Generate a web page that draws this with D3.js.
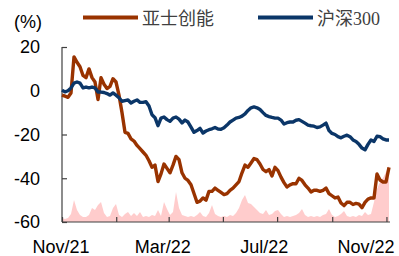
<!DOCTYPE html>
<html>
<head>
<meta charset="utf-8">
<script src="https://cdn.jsdelivr.net/npm/d3@7.9.0/dist/d3.min.js"></script>
<style>
  body { margin: 0; background: #fff; }
  svg { display: block; }
  .tick-label { font-family: "Liberation Sans", Arial, sans-serif; font-size: 18px; fill: #000; }
  .legend-text { font-family: "Liberation Serif", "Noto Sans CJK SC", serif; font-size: 18px; fill: #404040; }
</style>
</head>
<body>
<svg id="chart" width="399" height="256"></svg>
<script>
// 亚士创能 cumulative return (%), sampled about every 3.4 days from Nov 1 2021
const asiaValues = [
  -2, -2.5, -3, -1, 15.5, 13, 11, 7, 6, 10,
  6, 4, -4, 6, 3, 1, 2, 5.5, 4, -2,
  -10, -19, -19.5, -22, -23, -25, -26.5, -28, -29.5, -32,
  -35, -34, -41.5, -38, -33.5, -35.5, -37.5, -34, -30, -31.5,
  -37.5, -40, -41, -43, -47, -51, -50.5, -49, -50, -46,
  -46, -44.5, -45.5, -46.5, -47.5, -47, -45.5, -44.5, -43, -41.5,
  -37.5, -34, -35, -33, -31, -31.5, -33.5, -36, -37, -36,
  -39, -35, -36.5, -39.5, -42, -44, -43, -42.5, -42.5, -40,
  -41, -43, -44.5, -46.3, -45.5, -45.5, -46, -45.5, -44.5, -47,
  -48, -49, -48.6, -51.3, -52.5, -51, -51, -52, -51.5, -51.8,
  -53.5, -51, -49.5, -49, -49, -38, -40.8, -41.7, -41.7, -35
];

// 沪深300 cumulative return (%)
const hs300Values = [
  0.3, -0.5, 0, 1.3, 3.5, 4, 3.5, 1.3, 1.7, 1.3,
  1.7, 1.3, -0.6, -0.6, -0.8, -1.3, -2, -1, -2, -3.2,
  -4.8, -4.5, -4.2, -5.6, -4.8, -4.2, -5.3, -5.3, -5, -7,
  -11, -12.3, -16, -12.5, -12, -13.2, -14, -12.5, -12, -13,
  -14.7, -13.4, -14.3, -16.6, -19, -18.2, -17.2, -19.3, -18.4, -17.8,
  -17.4, -16.8, -17.5, -17.6, -16.9, -15.7, -14.3, -13.4, -12.5, -12.2,
  -11.6, -10.6, -9, -7.8, -7.4, -7.8, -8.6, -10, -11.3, -11.8,
  -12.2, -12.5, -12.5, -13.4, -15.2, -14.6, -14.3, -14.3, -13.5, -13.2,
  -14, -14.8, -15.7, -16, -16.2, -16.8, -16.5, -15.7, -14.8, -18.2,
  -19.5, -20, -21, -21.5, -20.8, -20.3, -21, -22.5, -23.2, -24.5,
  -26.2, -27, -24.5, -22.5, -23.2, -20.8, -21, -22, -22.5, -22.5
];

// turnover of 亚士创能 (relative units)
const volumeValues = [
  4, 3, 4, 8, 22, 12, 7, 5, 5, 7,
  14, 12, 17, 20, 9, 5, 6, 14, 18, 7,
  5, 8, 10, 6, 9, 6, 10, 5, 6, 5,
  7, 6, 12, 6, 20, 13, 7, 10, 30, 14,
  7, 6, 5, 6, 5, 7, 10, 6, 5, 9,
  17, 8, 6, 5, 6, 5, 7, 6, 9, 14,
  22, 27, 19, 18, 15, 12, 9, 8, 12, 7,
  8, 11, 12, 8, 5, 6, 5, 6, 7, 9,
  13, 7, 5, 6, 5, 6, 5, 7, 8, 13,
  7, 5, 6, 8, 11, 6, 5, 6, 5, 7,
  6, 10, 7, 8, 20, 33, 40, 44, 50, 56
];

const seriesNames = ['亚士创能', '沪深300'];
const seriesColors = ['#993300', '#0b3668'];
const yTicks = [20, 0, -20, -40, -60];
const xTickLabels = ['Nov/21', 'Mar/22', 'Jul/22', 'Nov/22'];

const svg = d3.select('#chart');
const plotLeft = 62, plotRight = 390, plotTop = 47, plotBottom = 222;

const x = d3.scaleLinear().domain([0, asiaValues.length - 1]).range([plotLeft, 389]);
const xTime = d3.scaleTime()
  .domain([new Date(2021, 10, 1), new Date(2022, 10, 5)])
  .range([plotLeft, plotRight]);
const y = d3.scaleLinear().domain([-60, 20]).range([plotBottom, plotTop]);
const yVol = d3.scaleLinear().domain([0, 175]).range([plotBottom, plotTop]);
const xLabel = d3.scalePoint().domain(xTickLabels).range([61, 366]);

// volume area
const volArea = d3.area()
  .x((d, i) => x(i))
  .y0(plotBottom)
  .y1((d) => yVol(d));
svg.append('path')
  .datum(volumeValues)
  .attr('d', volArea)
  .attr('fill', '#ffcccc');

// axes
const xAxis = d3.axisBottom(xTime)
  .ticks(d3.timeMonth.every(2))
  .tickSize(-5)
  .tickFormat('');
const gx = svg.append('g').attr('transform', `translate(0,${plotBottom})`).call(xAxis);
gx.select('.domain').attr('d', `M${plotLeft},0H${plotRight}`);

const yAxis = d3.axisLeft(y).tickValues(yTicks).tickSize(-5).tickFormat('');
const gy = svg.append('g').attr('transform', `translate(${plotLeft},0)`).call(yAxis);
gy.select('.domain').attr('d', `M0,${plotTop}V${plotBottom}`);

svg.selectAll('.domain').attr('stroke', '#404040').attr('stroke-width', 1.2);
svg.selectAll('.tick line').attr('stroke', '#404040').attr('stroke-width', 1.2);

// tick labels
svg.selectAll('.ylab')
  .data(yTicks)
  .join('text')
  .attr('class', 'tick-label')
  .attr('x', 40)
  .attr('y', (d) => y(d))
  .attr('dy', '0.36em')
  .attr('text-anchor', 'end')
  .text((d) => d);

svg.selectAll('.xlab')
  .data(xTickLabels)
  .join('text')
  .attr('class', 'tick-label')
  .attr('x', (d) => xLabel(d))
  .attr('y', 253)
  .attr('text-anchor', 'middle')
  .text((d) => d);

svg.append('text')
  .attr('class', 'tick-label')
  .attr('x', 14)
  .attr('y', 28)
  .text('(%)');

// lines
const line = d3.line().x((d, i) => x(i)).y((d) => y(d));
[asiaValues, hs300Values].forEach((vals, k) => {
  svg.append('path')
    .datum(vals)
    .attr('d', line)
    .attr('fill', 'none')
    .attr('stroke', seriesColors[k])
    .attr('stroke-width', 3.4)
    .attr('stroke-linejoin', 'round');
});

// legend
const legendX = [83, 258];
seriesNames.forEach((name, k) => {
  svg.append('line')
    .attr('x1', legendX[k]).attr('x2', legendX[k] + 55)
    .attr('y1', 17.5).attr('y2', 17.5)
    .attr('stroke', seriesColors[k])
    .attr('stroke-width', 4);
  svg.append('text')
    .attr('class', 'legend-text')
    .attr('x', legendX[k] + 59)
    .attr('y', 25)
    .text(name);
});
</script>
</body>
</html>
